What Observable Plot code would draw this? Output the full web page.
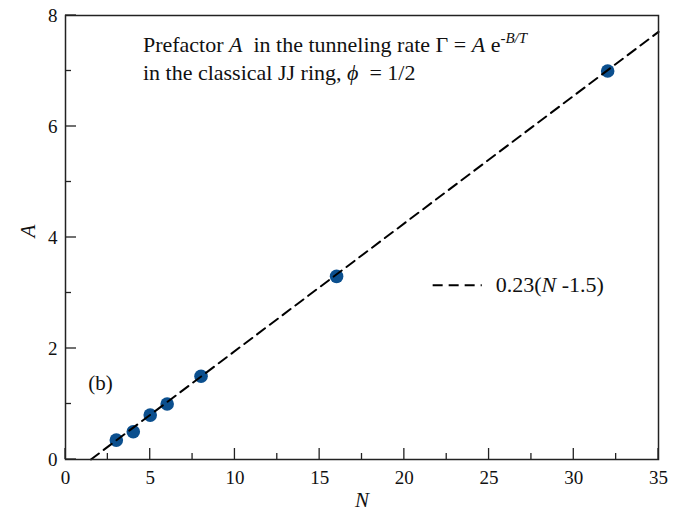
<!DOCTYPE html>
<html>
<head>
<meta charset="utf-8">
<script src="https://cdn.jsdelivr.net/npm/d3@7"></script>
<script src="https://cdn.jsdelivr.net/npm/@observablehq/plot@0.6"></script>
<style>
  html, body { margin: 0; padding: 0; background: #fff; }
  #chart svg { display: block; }
</style>
</head>
<body>
<div id="chart"></div>
<script>
// ---- data ----
const nValues = [3, 4, 5, 6, 8, 16, 32];
const aValues = [0.35, 0.5, 0.8, 1.0, 1.5, 3.3, 7.0];
const fitSlope = 0.23;
const fitOffset = 1.5;
const fitN = [1.5, 35];
const xMajorTicks = [0, 5, 10, 15, 20, 25, 30, 35];
const xMinorTicks = [2.5, 7.5, 12.5, 17.5, 22.5, 27.5, 32.5];
const yMajorTicks = [0, 2, 4, 6, 8];
const yMinorTicks = [1, 3, 5, 7];
const panelLabel = "(b)";

const points = nValues.map((n, i) => ({n, a: aValues[i]}));
const fitLine = fitN.map(n => ({n, a: fitSlope * (n - fitOffset)}));

const serif = "'Liberation Serif', 'Times New Roman', serif";
const dotColor = "#0b4f8e";
const ink = "#111";

const chart = Plot.plot({
  width: 684,
  height: 513,
  marginLeft: 65,
  marginRight: 26,
  marginTop: 15,
  marginBottom: 54,
  style: {fontFamily: serif, fontSize: "19px", color: ink, background: "#fff"},
  x: {domain: [0, 35]},
  y: {domain: [0, 8]},
  marks: [
    Plot.dot(points, {x: "n", y: "a", r: 6.8, fill: dotColor, stroke: "none"}),
    Plot.line(fitLine, {x: "n", y: "a", stroke: "#000", strokeWidth: 2, strokeDasharray: "10,6"}),
    Plot.axisX({ticks: xMajorTicks, tickSize: 0, tickPadding: 11, fontSize: 19, label: null}),
    Plot.axisY({ticks: yMajorTicks, tickSize: 0, tickPadding: 8, fontSize: 19, label: null}),
    Plot.frame({stroke: "#222", strokeWidth: 1.5}),
    Plot.text(["N"], {frameAnchor: "bottom", dy: 47, fontStyle: "italic", fontSize: 21}),
    Plot.text(["A"], {frameAnchor: "left", dx: -37, rotate: -90, fontStyle: "italic", fontSize: 21}),
    Plot.text([panelLabel], {x: 1.35, y: 1.37, textAnchor: "start", fontSize: 21})
  ]
});

document.getElementById("chart").appendChild(chart);

const sx = chart.scale("x"), sy = chart.scale("y");
const svg = d3.select(chart);

// ---- inward ticks (positions from Plot's scales) ----
const tg = svg.append("g").attr("stroke", "#222").attr("stroke-width", 1.3);
const y0 = sy.apply(0), x0 = sx.apply(0);
const majorLen = 11, minorLen = 6;
xMajorTicks.forEach(v => tg.append("line").attr("x1", sx.apply(v)).attr("x2", sx.apply(v)).attr("y1", y0).attr("y2", y0 - majorLen));
xMinorTicks.forEach(v => tg.append("line").attr("x1", sx.apply(v)).attr("x2", sx.apply(v)).attr("y1", y0).attr("y2", y0 - minorLen));
yMajorTicks.forEach(v => tg.append("line").attr("y1", sy.apply(v)).attr("y2", sy.apply(v)).attr("x1", x0).attr("x2", x0 + majorLen));
yMinorTicks.forEach(v => tg.append("line").attr("y1", sy.apply(v)).attr("y2", sy.apply(v)).attr("x1", x0).attr("x2", x0 + minorLen));

// ---- rich-text annotations (italic / superscript) ----
const g = svg.append("g")
  .attr("font-family", serif).attr("font-size", 22).attr("fill", ink)
  .attr("text-anchor", "start");

const annoN = 4.6, annoA1 = 7.34, annoA2 = 6.82;
const t1 = g.append("text").attr("x", sx.apply(annoN)).attr("y", sy.apply(annoA1));
t1.append("tspan").text("Prefactor ");
t1.append("tspan").attr("font-style", "italic").text("A");
t1.append("tspan").text("\u00a0 in the tunneling rate \u0393 = ");
t1.append("tspan").attr("font-style", "italic").text("A");
t1.append("tspan").text(" e");
t1.append("tspan").attr("font-size", 15).attr("dy", -9).text("-");
t1.append("tspan").attr("font-size", 15).attr("font-style", "italic").text("B/T");

const t2 = g.append("text").attr("x", sx.apply(annoN)).attr("y", sy.apply(annoA2));
t2.append("tspan").text("in the classical JJ ring, ");
t2.append("tspan").attr("font-style", "italic").text("\u03d5");
t2.append("tspan").text("\u00a0 = 1/2");

// legend
const legN0 = 21.7, legN1 = 24.6, legA = 3.13;
g.append("line")
  .attr("x1", sx.apply(legN0)).attr("x2", sx.apply(legN1))
  .attr("y1", sy.apply(legA)).attr("y2", sy.apply(legA))
  .attr("stroke", "#000").attr("stroke-width", 2).attr("stroke-dasharray", "10,6");
const lt = g.append("text").attr("x", sx.apply(legN1) + 14).attr("y", sy.apply(legA) + 7);
lt.append("tspan").text("0.23(");
lt.append("tspan").attr("font-style", "italic").text("N");
lt.append("tspan").text(" -1.5)");
</script>
</body>
</html>
